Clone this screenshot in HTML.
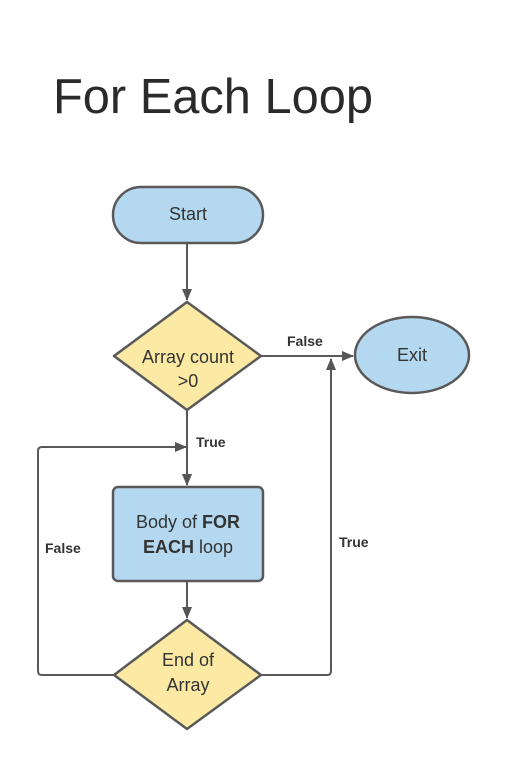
<!DOCTYPE html>
<html><head><meta charset="utf-8"><style>
html,body{margin:0;padding:0;background:#fff;}
svg{display:block;}
text{font-family:"Liberation Sans",sans-serif;fill:#333;}
</style></head><body>
<svg width="506" height="769" viewBox="0 0 506 769" xmlns="http://www.w3.org/2000/svg">
<defs>
<marker id="ah" markerWidth="12" markerHeight="10" refX="11" refY="5" orient="auto" markerUnits="userSpaceOnUse">
<path d="M0,0 L12,5 L0,10 Z" fill="#555"/>
</marker>
</defs>
<text x="53" y="113" font-size="49" textLength="320" lengthAdjust="spacingAndGlyphs" style="fill:#2a2a2a">For Each Loop</text>

<g stroke="#595959" stroke-width="2" fill="none">
<line x1="187" y1="244" x2="187" y2="300" marker-end="url(#ah)"/>
<line x1="261" y1="356" x2="353" y2="356" marker-end="url(#ah)"/>
<path d="M261,675 H327 Q331,675 331,671 V359" marker-end="url(#ah)"/>
<line x1="187" y1="410" x2="187" y2="485" marker-end="url(#ah)"/>
<path d="M114,675 H42 Q38,675 38,671 V451 Q38,447 42,447 H186" marker-end="url(#ah)"/>
<line x1="187" y1="582" x2="187" y2="618" marker-end="url(#ah)"/>
</g>

<g stroke="#595959" stroke-width="2.5">
<rect x="113" y="187" width="150" height="56" rx="28" fill="#b4d8f0"/>
<path d="M187,302 L261,356 L187,410 L114,356 Z" fill="#fce9a4" stroke-linejoin="round"/>
<ellipse cx="412" cy="355" rx="57" ry="38" fill="#b4d8f0"/>
<rect x="113" y="487" width="150" height="94" rx="5" fill="#b4d8f0"/>
<path d="M187,620 L261,675 L187,729 L114,675 Z" fill="#fce9a4" stroke-linejoin="round"/>
</g>

<g font-size="18" text-anchor="middle">
<text x="188" y="220">Start</text>
<text x="188" y="363">Array count</text>
<text x="188" y="387">&gt;0</text>
<text x="412" y="361">Exit</text>
<text x="188" y="528">Body of <tspan font-weight="bold">FOR</tspan></text>
<text x="188" y="553"><tspan font-weight="bold">EACH</tspan> loop</text>
<text x="188" y="666">End of</text>
<text x="188" y="691">Array</text>
</g>
<g font-size="14" font-weight="bold">
<text x="287" y="346">False</text>
<text x="196" y="447">True</text>
<text x="45" y="553">False</text>
<text x="339" y="547">True</text>
</g>
</svg>
</body></html>
